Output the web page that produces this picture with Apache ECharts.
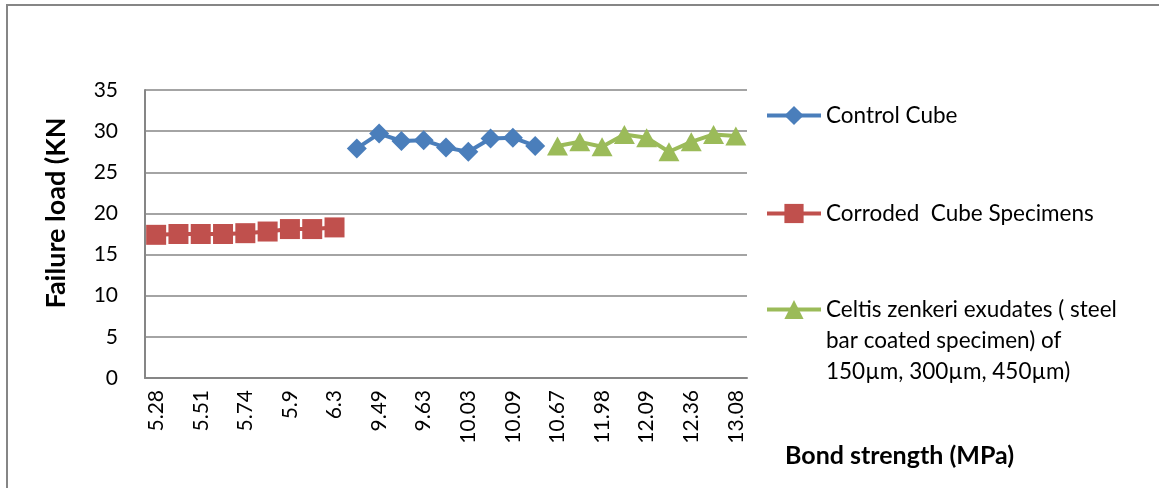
<!DOCTYPE html>
<html>
<head>
<meta charset="utf-8">
<script src="https://cdn.jsdelivr.net/npm/echarts@6/dist/echarts.min.js"></script>
<style>
  html, body { margin: 0; padding: 0; background: #fff; }
  #main { width: 1159px; height: 488px; }
</style>
</head>
<body>
<div id="main"></div>
<script>
// bond strength categories (only every other one is labelled on the axis)
var categories = ['5.28', '5.4', '5.51', '5.6', '5.74', '5.8', '5.9', '6.1', '6.3',
  '9.2', '9.49', '9.55', '9.63', '9.8', '10.03', '10.05', '10.09', '10.3',
  '10.67', '11.2', '11.98', '12.0', '12.09', '12.2', '12.36', '12.8', '13.08']

// failure load (KN) per series
var corroded = [17.4, 17.5, 17.5, 17.5, 17.6, 17.8, 18.1, 18.1, 18.3]
var control = [27.9, 29.7, 28.8, 28.9, 28.0, 27.5, 29.1, 29.2, 28.2]
var coated = [28.2, 28.7, 28.1, 29.6, 29.2, 27.5, 28.7, 29.6, 29.4]

var names = ['Control Cube', 'Corroded  Cube Specimens',
  'Celtis zenkeri exudates ( steel bar coated specimen) of 150\u00b5m, 300\u00b5m, 450\u00b5m)']

// spread each group over its slice of the category axis
function place(vals, start) {
  var out = []
  for (var i = 0; i < categories.length; i++) {
    var k = i - start
    out.push(k >= 0 && k < vals.length ? vals[k] : null)
  }
  return out
}

var font = 'Lato, "Open Sans", sans-serif'
var legendText = { fontSize: 22.5, color: '#000', fontFamily: font, lineHeight: 31 }
var legendBase = { orient: 'vertical', left: 760, itemWidth: 54, itemHeight: 24, itemGap: 5,
  lineStyle: { width: 4 }, textStyle: legendText }

var chart = echarts.init(document.getElementById('main'))
var option = {
  backgroundColor: '#fff',
  animation: false,
  textStyle: { fontFamily: font },
  grid: { left: 145, right: 412, top: 90, bottom: 110 },
  legend: [
    Object.assign({ data: [names[0]], top: 95 }, legendBase),
    Object.assign({ data: [names[1]], top: 193 }, legendBase),
    // blank lines first so the icon sits beside the first text line
    Object.assign({
      data: [names[2]], top: 227,
      formatter: function () {
        return '\n\nCeltis zenkeri exudates ( steel\nbar coated specimen) of\n150\u00b5m, 300\u00b5m, 450\u00b5m)'
      }
    }, legendBase)
  ],
  xAxis: {
    type: 'category',
    data: categories,
    boundaryGap: true,
    axisTick: { show: false },
    axisLine: { lineStyle: { color: '#868686', width: 2 } },
    axisLabel: { rotate: 90, interval: 1, fontSize: 21, color: '#000', margin: 12, fontFamily: font }
  },
  yAxis: {
    type: 'value',
    min: 0, max: 35, interval: 5,
    axisLine: { show: true, lineStyle: { color: '#868686', width: 2 } },
    axisTick: { show: false },
    splitLine: { lineStyle: { color: '#868686', width: 1.5 } },
    axisLabel: { fontSize: 21, color: '#000', margin: 27, fontFamily: font }
  },
  series: [{
    name: names[0], type: 'line', data: place(control, 9),
    symbol: 'diamond', symbolSize: 20, showAllSymbol: true,
    lineStyle: { width: 4, color: '#4a7ebb' },
    itemStyle: { color: '#4a7ebb' }
  }, {
    name: names[1], type: 'line', data: place(corroded, 0),
    symbol: 'rect', symbolSize: 20, showAllSymbol: true,
    lineStyle: { width: 4, color: '#c0504d' },
    itemStyle: { color: '#c0504d' }
  }, {
    name: names[2], type: 'line', data: place(coated, 18),
    symbol: 'triangle', symbolSize: [21, 19], showAllSymbol: true,
    lineStyle: { width: 4, color: '#9bbb59' },
    itemStyle: { color: '#9bbb59' }
  }],
  graphic: [{
    type: 'polyline',
    shape: { points: [[7, 488], [7, 5], [1159, 5]] },
    style: { stroke: '#868686', lineWidth: 2, fill: null }
  }, {
    type: 'text', left: 785, top: 443,
    style: { text: 'Bond strength (MPa)', font: 'bold 25px ' + font, fill: '#000' }
  }, {
    type: 'text', x: 56, y: 213, rotation: Math.PI / 2,
    style: { text: 'Failure load (KN', font: 'bold 27px ' + font, fill: '#000', align: 'center', verticalAlign: 'middle' }
  }]
}
chart.setOption(option)
</script>
</body>
</html>
